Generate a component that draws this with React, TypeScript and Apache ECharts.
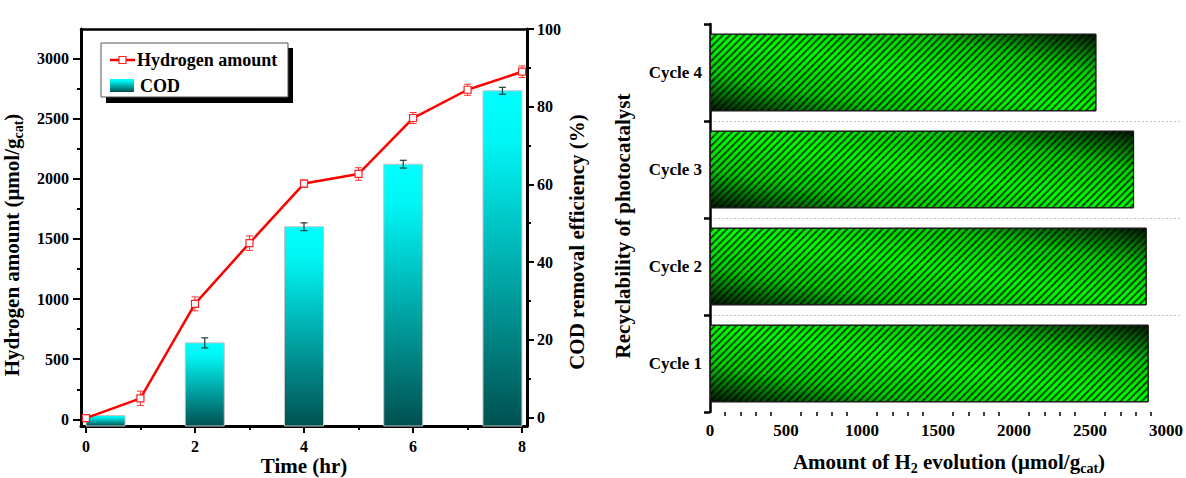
import React, { useEffect, useRef } from "react";
import * as echarts from "echarts";

// ---------- data ----------
const hours = [0, 1, 2, 3, 4, 5, 6, 7, 8];
const h2Amount = [10, 175, 960, 1465, 1960, 2040, 2505, 2740, 2890];
const h2Err = [20, 60, 58, 60, 30, 52, 46, 46, 48];

const codTime = [0.36, 2.18, 4.0, 5.82, 7.64];
const codEff = [0.5, 19.2, 49.1, 65.2, 84.1];
const codErr = [0, 1.3, 1.0, 1.0, 0.9];

const cycles = ["Cycle 1", "Cycle 2", "Cycle 3", "Cycle 4"];
const cycleH2 = [2886, 2873, 2790, 2542];

const h2Ticks = [0, 500, 1000, 1500, 2000, 2500, 3000];
const h2MinorTicks = [250, 750, 1250, 1750, 2250, 2750];
const codTicks = [0, 20, 40, 60, 80, 100];
const codMinorTicks = [10, 30, 50, 70, 90];
const timeTicks = [0, 2, 4, 6, 8];
const timeMinorTicks = [1, 3, 5, 7];
const cycleAxisTicks = [0, 500, 1000, 1500, 2000, 2500, 3000];

// ---------- styling ----------
const SERIF = "'Times New Roman', 'Liberation Serif', serif";
const plain = (v: number) => String(v);
const labelFont = { fontFamily: SERIF, fontWeight: "bold" as const, fontSize: 16, color: "#000", formatter: plain };

const titleRich = {
  a: { fontFamily: SERIF, fontWeight: "bold", fontSize: 21, lineHeight: 26, fill: "#000", color: "#000" },
  s: { fontFamily: SERIF, fontWeight: "bold", fontSize: 14, lineHeight: 14, padding: [12, 0, 0, 0], fill: "#000", color: "#000" },
};

const cyanGrad = () =>
  new echarts.graphic.LinearGradient(0, 0, 0, 1, [
    { offset: 0, color: "#00ffff" },
    { offset: 0.15, color: "#00f6f6" },
    { offset: 1, color: "#005050" },
  ]);

const greenGrad = () =>
  new echarts.graphic.LinearGradient(0, 1, 1, 0, [
    { offset: 0, color: "#001800" },
    { offset: 0.25, color: "#00d000" },
    { offset: 0.5, color: "#00ff00" },
    { offset: 0.75, color: "#00d000" },
    { offset: 1, color: "#001800" },
  ]);

const H2_MIN = -55;
const H2_MAX = 3245;
const COD_MIN = -2.2;
const COD_MAX = 100;
const T_MIN = -0.09;
const T_MAX = 8.09;

export default function App() {
  const ref = useRef<HTMLDivElement>(null);

  useEffect(() => {
    if (!ref.current) return;
    const chart = echarts.init(ref.current, null, { renderer: "svg" });

    const option: any = {
      animation: false,
      backgroundColor: "#fff",
      grid: [
        { left: 81, top: 29, width: 446, height: 397 },
        { left: 710, top: 24, width: 476, height: 388 },
      ],
      xAxis: [
        {
          gridIndex: 0,
          type: "value",
          position: "bottom",
          min: T_MIN,
          max: T_MAX,
          axisLine: { onZero: false, lineStyle: { color: "#000", width: 3 } },
          axisTick: { customValues: timeTicks, length: 7, lineStyle: { color: "#000", width: 2 } },
          axisLabel: { customValues: timeTicks, margin: 12, ...labelFont },
          splitLine: { show: false },
        },
        {
          gridIndex: 0,
          type: "value",
          position: "bottom",
          min: T_MIN,
          max: T_MAX,
          axisLine: { show: false, onZero: false },
          axisTick: { customValues: timeMinorTicks, length: 4, lineStyle: { color: "#000", width: 2 } },
          axisLabel: { show: false },
          splitLine: { show: false },
        },
        {
          gridIndex: 0,
          type: "value",
          position: "top",
          min: T_MIN,
          max: T_MAX,
          axisLine: { onZero: false, lineStyle: { color: "#000", width: 2.5 } },
          axisTick: { show: false },
          axisLabel: { show: false },
          splitLine: { show: false },
        },
        {
          gridIndex: 1,
          type: "value",
          position: "bottom",
          min: 0,
          max: 3100,
          interval: 500,
          axisLine: { onZero: false, lineStyle: { color: "#000", width: 2.5 } },
          axisTick: { length: 7, lineStyle: { color: "#000", width: 2 } },
          minorTick: { show: true, splitNumber: 5, length: 4, lineStyle: { color: "#000", width: 1.5 } },
          axisLabel: { customValues: cycleAxisTicks, margin: 10, ...labelFont, fontSize: 17 },
          splitLine: { show: false },
        },
      ],
      yAxis: [
        {
          gridIndex: 0,
          type: "value",
          position: "left",
          min: H2_MIN,
          max: H2_MAX,
          axisLine: { show: true, onZero: false, lineStyle: { color: "#000", width: 3 } },
          axisTick: { show: true, customValues: h2Ticks, length: 8, lineStyle: { color: "#000", width: 2 } },
          axisLabel: { customValues: h2Ticks, margin: 12, ...labelFont },
          splitLine: { show: false },
        },
        {
          gridIndex: 0,
          type: "value",
          position: "right",
          min: COD_MIN,
          max: COD_MAX,
          axisLine: { show: true, onZero: false, lineStyle: { color: "#000", width: 3 } },
          axisTick: { show: true, customValues: codTicks, length: 7, lineStyle: { color: "#000", width: 2 } },
          axisLabel: { customValues: codTicks, margin: 10, ...labelFont },
          splitLine: { show: false },
        },
        {
          gridIndex: 0,
          type: "value",
          position: "left",
          min: H2_MIN,
          max: H2_MAX,
          axisLine: { show: false, onZero: false },
          axisTick: { show: true, customValues: h2MinorTicks, length: 4, lineStyle: { color: "#000", width: 2 } },
          axisLabel: { show: false },
          splitLine: { show: false },
        },
        {
          gridIndex: 0,
          type: "value",
          position: "right",
          min: COD_MIN,
          max: COD_MAX,
          axisLine: { show: false, onZero: false },
          axisTick: { show: true, customValues: codMinorTicks, length: 4, lineStyle: { color: "#000", width: 2 } },
          axisLabel: { show: false },
          splitLine: { show: false },
        },
        {
          gridIndex: 1,
          type: "category",
          position: "left",
          data: cycles,
          axisLine: { show: true, onZero: false, lineStyle: { color: "#000", width: 2.5 } },
          axisTick: { show: true, length: 6, lineStyle: { color: "#000", width: 2.5 } },
          axisLabel: { margin: 8, fontFamily: SERIF, fontWeight: "bold", fontSize: 17, color: "#000" },
          splitLine: {
            show: true,
            showMinLine: false,
            showMaxLine: false,
            lineStyle: { color: "#c4c4c4", type: [2, 2], width: 1 },
          },
        },
      ],
      series: [
        {
          name: "COD",
          type: "custom",
          xAxisIndex: 0,
          yAxisIndex: 1,
          data: codTime.map((t, i) => [t, codEff[i], codErr[i]]),
          encode: { x: 0, y: 1 },
          z: 2,
          renderItem: (_params: any, api: any) => {
            const x = api.value(0);
            const v = api.value(1);
            const e = api.value(2);
            const top = api.coord([x, v]);
            const base = api.coord([x, COD_MIN]);
            const w = 39;
            const children: any[] = [
              {
                type: "rect",
                shape: { x: top[0] - w / 2, y: top[1], width: w, height: base[1] - top[1] },
                style: { fill: cyanGrad(), stroke: "#c4c4c4", lineWidth: 1 },
              },
            ];
            if (e > 0) {
              const hi = api.coord([x, v + e]);
              const lo = api.coord([x, v - e]);
              const cap = 3.5;
              const st = { stroke: "#1a3a3a", lineWidth: 1.2 };
              children.push(
                { type: "line", shape: { x1: hi[0], y1: hi[1], x2: lo[0], y2: lo[1] }, style: st },
                { type: "line", shape: { x1: hi[0] - cap, y1: hi[1], x2: hi[0] + cap, y2: hi[1] }, style: st },
                { type: "line", shape: { x1: lo[0] - cap, y1: lo[1], x2: lo[0] + cap, y2: lo[1] }, style: st }
              );
            }
            return { type: "group", children };
          },
        },
        {
          name: "H2 error",
          type: "custom",
          xAxisIndex: 0,
          yAxisIndex: 0,
          data: hours.map((h, i) => [h, h2Amount[i], h2Err[i]]),
          encode: { x: 0, y: 1 },
          z: 3,
          renderItem: (_params: any, api: any) => {
            const x = api.value(0);
            const v = api.value(1);
            const e = api.value(2);
            const hi = api.coord([x, v + e]);
            const lo = api.coord([x, v - e]);
            const cap = 3.5;
            const st = { stroke: "#ff3030", lineWidth: 1 };
            return {
              type: "group",
              children: [
                { type: "line", shape: { x1: hi[0], y1: hi[1], x2: lo[0], y2: lo[1] }, style: st },
                { type: "line", shape: { x1: hi[0] - cap, y1: hi[1], x2: hi[0] + cap, y2: hi[1] }, style: st },
                { type: "line", shape: { x1: lo[0] - cap, y1: lo[1], x2: lo[0] + cap, y2: lo[1] }, style: st },
              ],
            };
          },
        },
        {
          name: "Hydrogen amount",
          type: "line",
          xAxisIndex: 0,
          yAxisIndex: 0,
          data: hours.map((h, i) => [h, h2Amount[i]]),
          symbol: "rect",
          symbolSize: 7,
          z: 4,
          lineStyle: { color: "#ff0000", width: 2.5 },
          itemStyle: { color: "#ffffff", borderColor: "#ff2020", borderWidth: 1.2 },
        },
        {
          name: "Cycles",
          type: "bar",
          xAxisIndex: 3,
          yAxisIndex: 4,
          barWidth: "80%",
          data: cycleH2,
          itemStyle: {
            color: greenGrad(),
            borderColor: "#1a1a1a",
            borderWidth: 1,
            decal: {
              symbol: "rect",
              symbolSize: 1,
              color: "rgba(0,0,0,0.68)",
              dashArrayX: [1, 0],
              dashArrayY: [1.2, 3],
              rotation: -Math.PI / 4,
            },
          },
        },
      ],
      graphic: {
        elements: [
          // legend box
          { type: "rect", shape: { x: 106, y: 48, width: 187, height: 55 }, style: { fill: "#000" } },
          { type: "rect", shape: { x: 101, y: 43, width: 187, height: 54 }, style: { fill: "#fff", stroke: "#555", lineWidth: 1 } },
          { type: "line", shape: { x1: 110, y1: 60, x2: 135, y2: 60 }, style: { stroke: "#ff0000", lineWidth: 2.5 } },
          { type: "rect", shape: { x: 119, y: 56.5, width: 7, height: 7 }, style: { fill: "#fff", stroke: "#ff2020", lineWidth: 1.2 } },
          { type: "text", x: 137, y: 60, style: { text: "Hydrogen amount", fontFamily: SERIF, fontWeight: "bold", fontSize: 18, fill: "#000", verticalAlign: "middle", align: "left" } },
          { type: "rect", shape: { x: 110, y: 79, width: 24, height: 13 }, style: { fill: cyanGrad() } },
          { type: "text", x: 140, y: 86, style: { text: "COD", fontFamily: SERIF, fontWeight: "bold", fontSize: 18, fill: "#000", verticalAlign: "middle", align: "left" } },
          // axis titles
          {
            type: "text", x: 12, y: 245, rotation: Math.PI / 2,
            style: { text: "{a|Hydrogen amount (μmol/g}{s|cat}{a|)}", rich: titleRich, align: "center", verticalAlign: "middle" },
          },
          {
            type: "text", x: 577, y: 242, rotation: Math.PI / 2,
            style: { text: "{a|COD removal efficiency (%)}", rich: titleRich, align: "center", verticalAlign: "middle" },
          },
          {
            type: "text", x: 304, y: 466,
            style: { text: "{a|Time (hr)}", rich: titleRich, align: "center", verticalAlign: "middle" },
          },
          {
            type: "text", x: 623, y: 226, rotation: Math.PI / 2,
            style: { text: "{a|Recyclability of photocatalyst}", rich: titleRich, align: "center", verticalAlign: "middle" },
          },
          {
            type: "text", x: 949, y: 462,
            style: { text: "{a|Amount of H}{s|2}{a| evolution (μmol/g}{s|cat}{a|)}", rich: titleRich, align: "center", verticalAlign: "middle" },
          },
        ],
      },
    };

    chart.setOption(option);
    return () => chart.dispose();
  }, []);

  return (
    <div
      ref={ref}
      style={{ position: "absolute", left: 0, top: 0, width: 1186, height: 478, background: "#fff" }}
    />
  );
}
